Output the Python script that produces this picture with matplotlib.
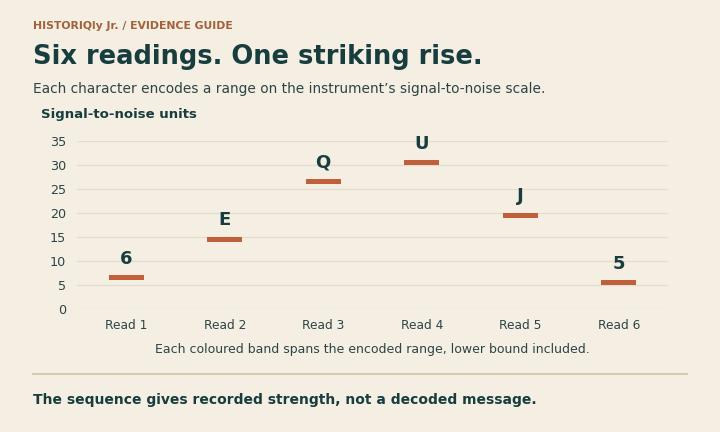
import matplotlib
matplotlib.use("Agg")
import matplotlib.pyplot as plt
from matplotlib.lines import Line2D

plt.rcParams["font.family"] = ["DejaVu Sans"]

categories = ["Read 1", "Read 2", "Read 3", "Read 4", "Read 5", "Read 6"]
lower = [6, 14, 26, 30, 19, 5]
upper = [7, 15, 27, 31, 20, 6]
symbols = ["6", "E", "Q", "U", "J", "5"]
yticks = [0, 5, 10, 15, 20, 25, 30, 35]

BG = "#f5eee2"
DARK = "#173d3f"
TEXT = "#2b4547"
BAND = "#c0603a"
GRID = "#e4dccd"
BROWN = "#a2613a"
RULE = "#cfc3a1"

fig = plt.figure(figsize=(7.2, 4.32), dpi=100, facecolor=BG)
W, H = 720, 432

def fx(px):
    return px / W

def fy(py):
    return 1 - py / H

ax = fig.add_axes([fx(77), fy(309), fx(668) - fx(77), fy(141) - fy(309)])
ax.set_facecolor(BG)

x = list(range(len(categories)))
heights = [u - l for u, l in zip(upper, lower)]
ax.bar(x, heights, bottom=lower, width=0.36, color=BAND, zorder=3)
for xi, u, s in zip(x, upper, symbols):
    ax.annotate(s, (xi, u), xytext=(0, 5.5), textcoords="offset points",
                ha="center", va="bottom", fontsize=13, fontweight="bold",
                color=DARK, annotation_clip=False, zorder=4)

ax.set_xlim(-0.5, len(categories) - 0.5)
ax.set_ylim(0, 35)
ax.set_yticks(yticks)
ax.set_xticks(x)
ax.set_xticklabels(categories)
ax.grid(axis="y", color=GRID, linewidth=0.9, zorder=0)
ax.set_axisbelow(True)
for sp in ax.spines.values():
    sp.set_visible(False)
ax.tick_params(axis="both", length=0, colors=TEXT)
ax.tick_params(axis="y", pad=8, labelsize=9.2)
ax.tick_params(axis="x", pad=7.5, labelsize=8.8)

fig.text(fx(33), fy(29), "HISTORIQly Jr. / EVIDENCE GUIDE", fontsize=7.8,
         fontweight="bold", color=BROWN, va="baseline")
fig.text(fx(33), fy(64), "Six readings. One striking rise.", fontsize=18.5,
         fontweight="bold", color=DARK, va="baseline")
fig.text(fx(33), fy(93), "Each character encodes a range on the instrument\u2019s signal-to-noise scale.",
         fontsize=9.9, color=TEXT, va="baseline")
fig.text(fx(41), fy(118), "Signal-to-noise units", fontsize=9.5,
         fontweight="bold", color=DARK, va="baseline")
fig.text(fx(372), fy(350), "Each coloured band spans the encoded range, lower bound included.",
         fontsize=9, color=TEXT, ha="center", va="center")
fig.add_artist(Line2D([fx(33), fx(687)], [fy(374), fy(374)], color=RULE, linewidth=1.2))
fig.text(fx(33), fy(400), "The sequence gives recorded strength, not a decoded message.",
         fontsize=10, fontweight="bold", color=DARK, va="center")

fig.savefig("out.png", dpi=100, facecolor=BG)
